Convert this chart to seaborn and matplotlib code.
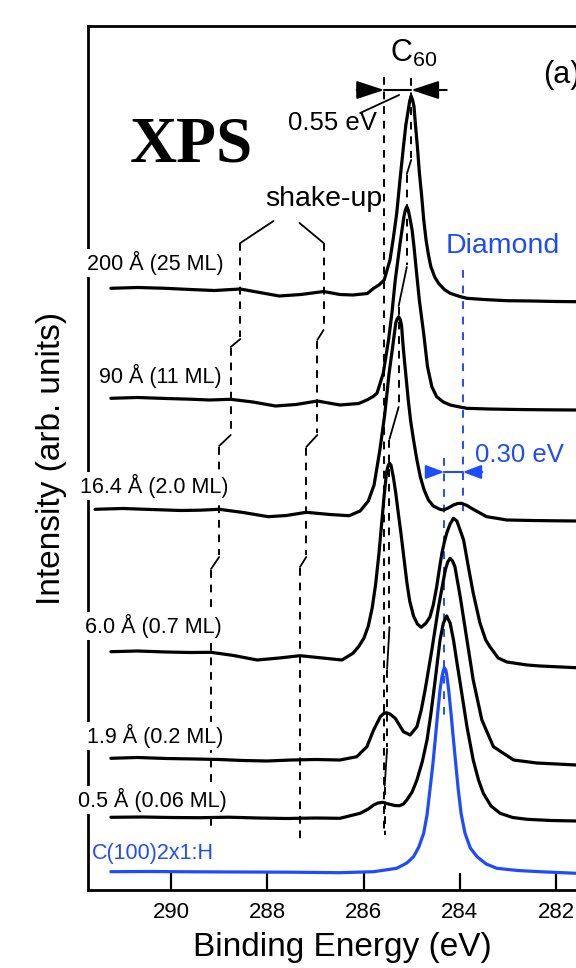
import numpy as np
import pandas as pd
import matplotlib
matplotlib.use("Agg")
import matplotlib.pyplot as plt
import seaborn as sns

# ---------------- data: binding energy (eV) and intensity (arb. units) ----------------
labels = ["200 Å (25 ML)", "90 Å (11 ML)", "16.4 Å (2.0 ML)", "6.0 Å (0.7 ML)",
          "1.9 Å (0.2 ML)", "0.5 Å (0.06 ML)", "C(100)2x1:H"]

e_200 = [291.25, 290.70, 290.12, 289.60, 289.10, 288.56, 288.10, 287.75, 287.30, 286.83, 286.49, 286.22,
         285.92, 285.79, 285.68, 285.57, 285.45, 285.38, 285.31, 285.24, 285.17, 285.12, 285.07, 285.04,
         285.01, 284.98, 284.95, 284.92, 284.88, 284.84, 284.79, 284.75, 284.70, 284.65, 284.60, 284.52,
         284.44, 284.32, 284.20, 284.00, 283.85, 283.50, 283.02, 282.50, 282.00, 281.58, 281.17]
i_200 = [601.7, 602.5, 601.7, 600.5, 599.5, 601.0, 597.0, 594.0, 595.5, 598.5, 595.5, 595.0,
         596.5, 601.7, 605.0, 610.0, 630.0, 652.0, 676.7, 711.0, 743.3, 765.0, 780.0, 789.0,
         794.0, 790.0, 783.3, 765.0, 743.3, 718.0, 693.3, 671.0, 650.0, 635.0, 623.3, 613.0,
         606.7, 600.5, 596.7, 593.5, 591.7, 590.5, 589.3, 589.0, 588.5, 588.3, 588.0]

e_90 = [291.25, 290.70, 290.10, 289.60, 289.20, 288.76, 288.30, 287.83, 287.40, 286.96, 286.49, 286.10,
        285.93, 285.80, 285.72, 285.59, 285.48, 285.41, 285.34, 285.24, 285.16, 285.13, 285.10, 285.07,
        285.04, 284.99, 284.95, 284.91, 284.84, 284.75, 284.67, 284.58, 284.48, 284.34, 284.20, 284.00,
        283.85, 283.40, 282.80, 282.20, 281.58, 281.17]
i_90 = [491.7, 492.5, 491.5, 490.8, 490.0, 490.7, 488.0, 484.0, 485.5, 489.0, 485.0, 486.5,
        490.0, 493.5, 496.7, 516.7, 550.0, 576.7, 610.0, 646.7, 673.3, 680.0, 683.3, 680.0,
        673.0, 660.0, 643.0, 623.3, 590.0, 556.7, 523.3, 503.3, 493.3, 488.0, 485.0, 483.0,
        481.7, 481.0, 480.5, 480.2, 480.0, 480.0]

e_16 = [291.58, 291.00, 290.40, 289.80, 289.40, 289.00, 288.50, 287.98, 287.60, 287.19, 286.70, 286.30,
        286.07, 285.90, 285.78, 285.66, 285.56, 285.47, 285.40, 285.33, 285.30, 285.27, 285.24, 285.21,
        285.17, 285.12, 285.07, 285.02, 284.96, 284.89, 284.82, 284.74, 284.65, 284.55, 284.41, 284.34,
        284.24, 284.13, 284.04, 283.96, 283.85, 283.72, 283.58, 283.44, 283.23, 283.02, 282.50, 282.00,
        281.58, 281.17]
i_16 = [380.7, 381.5, 380.5, 379.5, 379.8, 380.7, 377.5, 373.3, 374.5, 377.7, 375.5, 374.3,
        379.0, 389.0, 405.0, 440.0, 475.0, 516.0, 541.0, 567.0, 571.0, 573.3, 571.0, 565.0,
        540.0, 515.0, 490.0, 469.0, 450.0, 430.0, 413.3, 400.0, 390.0, 384.0, 380.7, 380.0,
        382.0, 385.0, 386.5, 386.7, 384.5, 380.7, 377.0, 373.3, 371.7, 370.0, 369.5, 369.2,
        369.0, 369.0]

e_6 = [291.25, 290.70, 290.10, 289.60, 289.17, 288.70, 288.21, 287.75, 287.32, 286.85, 286.45, 286.22,
       286.10, 285.99, 285.90, 285.82, 285.75, 285.68, 285.62, 285.57, 285.52, 285.49, 285.46, 285.43,
       285.38, 285.33, 285.28, 285.22, 285.16, 285.10, 285.04, 284.96, 284.88, 284.80, 284.70, 284.62,
       284.55, 284.48, 284.42, 284.37, 284.32, 284.27, 284.20, 284.13, 284.06, 284.00, 283.92, 283.82,
       283.72, 283.58, 283.46, 283.37, 283.20, 283.02, 282.60, 282.33, 281.80, 281.58, 281.17]
i_6 = [238.3, 239.0, 238.0, 237.5, 237.7, 234.5, 230.0, 232.0, 234.3, 232.0, 230.0, 236.7,
       243.5, 252.0, 264.0, 282.0, 305.0, 336.0, 368.0, 395.0, 418.0, 424.0, 426.7, 425.0,
       413.0, 397.0, 378.0, 356.0, 332.0, 308.0, 289.0, 274.0, 266.0, 262.7, 267.0, 273.0,
       285.0, 303.0, 322.0, 337.0, 348.0, 357.0, 366.0, 371.7, 369.0, 361.0, 350.0, 323.0,
       297.0, 267.0, 250.0, 243.0, 232.0, 228.0, 225.0, 224.0, 222.8, 222.3, 222.0]

e_19 = [291.25, 290.70, 290.10, 289.50, 289.00, 288.50, 288.00, 287.50, 287.00, 286.49, 286.14, 285.93,
        285.79, 285.65, 285.58, 285.52, 285.45, 285.34, 285.17, 285.03, 284.89, 284.80, 284.72, 284.58,
        284.44, 284.30, 284.25, 284.20, 284.15, 284.10, 283.99, 283.85, 283.72, 283.54, 283.30, 282.88,
        282.40, 281.58, 281.17]
i_19 = [131.7, 132.5, 131.5, 131.0, 130.5, 129.5, 129.0, 130.0, 130.5, 130.0, 133.3, 143.3,
        160.0, 173.3, 176.5, 177.3, 176.0, 171.7, 158.3, 155.0, 163.3, 180.0, 200.0, 240.0,
        283.3, 320.0, 328.0, 331.7, 329.0, 323.3, 293.3, 250.0, 210.0, 170.0, 143.3, 130.0,
        127.0, 125.0, 125.0]

e_05 = [291.25, 290.60, 290.00, 289.40, 288.80, 288.20, 287.60, 287.00, 286.49, 286.07, 285.90, 285.79,
        285.70, 285.60, 285.52, 285.45, 285.35, 285.25, 285.17, 285.10, 284.99, 284.89, 284.78, 284.68,
        284.60, 284.51, 284.41, 284.34, 284.27, 284.20, 284.13, 284.06, 283.99, 283.85, 283.72, 283.61,
        283.51, 283.35, 283.16, 282.90, 282.60, 282.10, 281.58, 281.17]
i_05 = [72.7, 73.0, 72.5, 72.3, 72.8, 72.0, 71.5, 72.0, 71.7, 76.7, 81.0, 85.0,
        87.0, 87.7, 86.5, 85.7, 84.5, 84.3, 86.0, 90.0, 98.0, 110.0, 128.0, 150.0,
        176.0, 210.0, 250.0, 267.0, 274.0, 267.0, 250.0, 228.0, 206.7, 163.3, 130.0, 110.0,
        96.7, 84.0, 76.7, 72.5, 70.7, 69.5, 69.0, 69.0]

e_h = [291.25, 290.50, 289.50, 288.50, 287.50, 286.49, 285.79, 285.31, 285.10, 284.96, 284.85, 284.75,
       284.68, 284.62, 284.56, 284.51, 284.46, 284.41, 284.37, 284.34, 284.32, 284.29, 284.27, 284.23,
       284.18, 284.13, 284.08, 284.03, 283.97, 283.89, 283.78, 283.64, 283.45, 283.23, 282.80, 282.33,
       281.58, 281.17]
i_h = [18.3, 18.5, 18.2, 18.0, 17.8, 17.3, 18.3, 21.7, 27.0, 33.3, 43.0, 56.7,
       75.0, 100.0, 125.0, 150.0, 176.0, 200.0, 213.0, 219.5, 222.3, 220.0, 215.0, 200.0,
       176.0, 150.0, 125.0, 100.0, 76.0, 56.7, 42.0, 33.3, 26.0, 21.7, 19.5, 18.3,
       16.7, 16.5]

xticks = [290, 288, 286, 284, 282]

# ---------------- style ----------------
sns.set_theme(style="ticks")
plt.rcParams["font.family"] = ["Liberation Sans", "DejaVu Sans"]
plt.rcParams["mathtext.fontset"] = "custom"
plt.rcParams["mathtext.rm"] = "Liberation Sans"
plt.rcParams["mathtext.it"] = "Liberation Sans:italic"
plt.rcParams["axes.linewidth"] = 2.0
plt.rcParams["axes.edgecolor"] = "black"

BLUE = "#1f4bff"
BLACK = "black"

fig = plt.figure(figsize=(5.76, 9.68), dpi=100)
ax = fig.add_axes([88 / 576, 78 / 968, 508 / 576, 864 / 968])

series = [(e_200, i_200), (e_90, i_90), (e_16, i_16), (e_6, i_6),
          (e_19, i_19), (e_05, i_05), (e_h, i_h)]
colors = [BLACK] * 6 + [BLUE]
for (e, i), lab, c in zip(series, labels, colors):
    df = pd.DataFrame({"E": e, "I": i})
    sns.lineplot(data=df, x="E", y="I", ax=ax, color=c, lw=2.3, sort=False,
                 estimator=None, legend=False, zorder=4)

ax.set_xlim(291.726, 281.168)
ax.set_ylim(0, 864)
ax.set_xticks(xticks)
ax.set_xticklabels([str(t) for t in xticks])
ax.set_yticks([])
ax.tick_params(axis="x", direction="in", length=12, width=1.6, labelsize=16, pad=9,
               top=False, colors="black")
for s in ax.spines.values():
    s.set_linewidth(2.0)
    s.set_color("black")

ax.set_xlabel("Binding Energy (eV)", fontsize=24, labelpad=6, color="black")
ax.set_ylabel("Intensity (arb. units)", fontsize=24, color="black")
ax.yaxis.set_label_coords(-0.041, 0.5)

dash_k = dict(color=BLACK, lw=1.4, ls=(0, (4, 3.5)), zorder=2)
solid_k = dict(color=BLACK, lw=1.3, zorder=2)


def track(segs):
    """segs: list of (E, I_top, I_bottom); consecutive segments joined by solid slants."""
    for k, (e, top, bot) in enumerate(segs):
        ax.plot([e, e], [top, bot], **dash_k)
        if k + 1 < len(segs):
            e2, top2, _ = segs[k + 1]
            ax.plot([e, e2], [bot - 2, top2 + 1], **solid_k)


# C60 long reference line and peak tracker
ax.plot([285.57, 285.57], [813, 55], **dash_k)
track([(285.01, 812, 732), (285.10, 715, 625), (285.27, 583, 485),
       (285.46, 450, 265), (285.51, 220, 143), (285.56, 103, 55)])

# shake-up tracks
ax.plot([287.87, 288.56], [669, 647], **solid_k)
ax.plot([287.33, 286.83], [667, 647], **solid_k)
track([(288.56, 647, 553), (288.76, 542, 457), (289.00, 443, 335), (289.17, 320, 60)])
track([(286.83, 647, 562), (286.96, 549, 457), (287.19, 442, 335), (287.32, 322, 47)])

# diamond reference lines
dash_b = dict(color=BLUE, lw=1.4, ls=(0, (4, 4)), zorder=2)
ax.plot([283.94, 283.94], [620, 377], **dash_b)
ax.plot([284.32, 284.32], [432, 173], **dash_b)

# 0.30 eV arrows (blue)
ax.plot([284.32, 283.94], [418, 418], color=BLUE, lw=1.5, zorder=3)
ax.annotate("", xy=(284.32, 418), xytext=(284.68, 418),
            arrowprops=dict(arrowstyle="-|>,head_length=0.8,head_width=0.3", color=BLUE,
                            lw=1.5, mutation_scale=14, shrinkA=0, shrinkB=0))
ax.annotate("", xy=(283.94, 418), xytext=(283.53, 418),
            arrowprops=dict(arrowstyle="-|>,head_length=0.8,head_width=0.3", color=BLUE,
                            lw=1.5, mutation_scale=14, shrinkA=0, shrinkB=0))

# 0.55 eV arrows (black)
ax.plot([285.57, 285.01], [800, 800], color=BLACK, lw=1.5, zorder=3)
ax.annotate("", xy=(285.57, 800), xytext=(286.14, 800),
            arrowprops=dict(arrowstyle="-|>,head_length=0.85,head_width=0.28", color=BLACK,
                            lw=1.5, mutation_scale=20, shrinkA=0, shrinkB=0))
ax.annotate("", xy=(285.01, 800), xytext=(284.27, 800),
            arrowprops=dict(arrowstyle="-|>,head_length=0.85,head_width=0.28", color=BLACK,
                            lw=1.5, mutation_scale=20, shrinkA=0, shrinkB=0))
ax.plot([286.07, 285.26], [777, 795], color=BLACK, lw=1.3, zorder=3)

# texts
ax.text(289.58, 744, "XPS", fontsize=47, fontweight="bold", family="Liberation Serif",
        ha="center", va="center", color=BLACK)
ax.text(285.45, 828, r"C$_{\mathregular{60}}$", fontsize=22, ha="left", va="baseline", color=BLACK)
ax.text(282.27, 815, "(a)", fontsize=22, ha="left", va="center", color=BLACK)
ax.text(286.65, 767, "0.55 eV", fontsize=18.5, ha="center", va="center", color=BLACK)
ax.text(286.82, 684, "shake-up", fontsize=20.5, ha="center", va="baseline", color=BLACK)
ax.text(284.30, 637, "Diamond", fontsize=20.5, ha="left", va="baseline", color=BLUE)
ax.text(283.68, 428, "0.30 eV", fontsize=18.5, ha="left", va="baseline", color=BLUE)

label_x = [288.90, 288.94, 288.81, 288.94, 288.92, 288.84, 289.11]
label_y = [620, 507, 397, 257, 147, 83, 31]
for lab, x, y, c in zip(labels, label_x, label_y, colors):
    ax.text(x, y, lab, fontsize=15.5, ha="right", va="baseline", color=c, zorder=5,
            bbox=dict(facecolor="white", edgecolor="none", pad=1.5))

fig.savefig("out.png", dpi=100)
